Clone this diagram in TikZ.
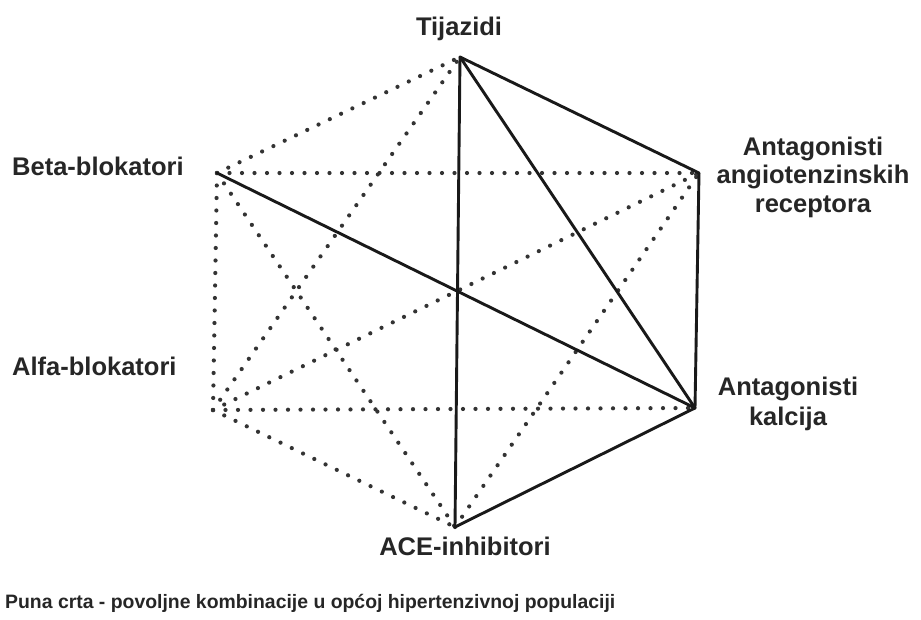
\documentclass[tikz,border=0pt]{standalone}
\usepackage{fontspec}
\setmainfont{Liberation Sans}
\usetikzlibrary{positioning}
\newcommand\lbfont{\fontsize{25.5}{29}\selectfont\bfseries}

\begin{document}
\begin{tikzpicture}[
x=1pt, y=-1pt,
drug/.style={anchor=base, text=black!85, font=\lbfont, inner sep=0pt, align=center},
good/.style={draw=black!90, line width=2.9pt, line cap=round},
other/.style={draw=black!80, line width=4.2pt, line cap=round, dash pattern=on 0pt off 12.5pt}
]
\useasboundingbox[fill=white] (0,0) rectangle (921,619);
% vertices of the hexagon
\coordinate (tij) at (460,57);
\coordinate (arb) at (699,173);
\coordinate (cal) at (695,408);
\coordinate (ace) at (455,527);
\coordinate (alf) at (213,410);
\coordinate (bet) at (217,173);
% dotted: other combinations
\foreach \a/\b in {bet/tij, alf/tij, bet/arb, alf/arb, bet/alf, alf/cal, bet/ace, alf/ace, ace/arb}
  \draw[other] (\a) -- (\b);
% solid: good combinations
\foreach \a/\b in {tij/arb, tij/cal, tij/ace, arb/cal, cal/ace, bet/cal}
  \draw[good] (\a) -- (\b);
% labels
\node[drug] (tijlabel) at (459,35) {Tijazidi};
\node[drug, anchor=base west] (betlabel) at (12,175) {Beta-blokatori};
\node[drug, anchor=base west] (alflabel) at (12,375) {Alfa-blokatori};
\node[drug, anchor=base, text width=200pt, font=\fontsize{25.5}{28.5}\selectfont\bfseries] (arblabel) at (813,155) {Antagonisti\\angiotenzinskih\\receptora};
\node[drug, text width=200pt, font=\fontsize{25.5}{30}\selectfont\bfseries] (callabel) at (788,395) {Antagonisti\\kalcija};
\node[drug] (acelabel) at (465,555) {ACE-inhibitori};
\node[drug, anchor=base west, font=\fontsize{19.4}{22}\selectfont\bfseries] (note) at (5,608)
  {Puna crta - povoljne kombinacije u općoj hipertenzivnoj populaciji};
\end{tikzpicture}
\end{document}
